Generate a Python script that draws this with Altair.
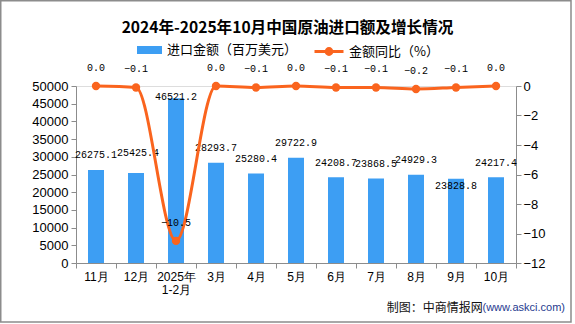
import altair as alt
import pandas as pd

months = ["11月", "12月", "2025年\n1-2月", "3月", "4月", "5月", "6月", "7月", "8月", "9月", "10月"]
amount = [26275.1, 25425.4, 46521.2, 28293.7, 25280.4, 29722.9, 24208.7, 23868.5, 24929.3, 23828.8, 24217.4]
growth = [0.0, -0.1, -10.5, 0.0, -0.1, 0.0, -0.1, -0.1, -0.2, -0.1, 0.0]

bar_name = "进口金额（百万美元）"
line_name = "金额同比（%）"
title_text = "2024年-2025年10月中国原油进口额及增长情况"
credit_cn = "制图：中商情报网"
credit_url = "(www.askci.com)"

BLUE = "#3d9ef3"
ORANGE = "#fa641e"
GRID = "#8c8c8c"
MONO = "Liberation Mono"

df = pd.DataFrame({"month": months, "amount": amount, "growth": growth})
df["s1"] = bar_name
df["s2"] = line_name

xenc = alt.X(
    "month:N",
    sort=months,
    scale=alt.Scale(paddingInner=0, paddingOuter=0),
    axis=alt.Axis(
        title=None, labelAngle=0, tickBand="extent", labelExpr="split(datum.label, '\\n')",
        labelFontSize=12, labelLineHeight=13.4, labelPadding=3, tickSize=5,
        domainColor=GRID, tickColor=GRID, labelColor="#000", labelFont="Liberation Sans",
    ),
)

yleft = alt.Y(
    "amount:Q",
    scale=alt.Scale(domain=[0, 50000], nice=False),
    axis=alt.Axis(
        title=None, values=list(range(0, 50001, 5000)), grid=False, orient="left", format="d",
        labelFontSize=13, labelPadding=3, tickSize=5, domainColor=GRID, tickColor=GRID,
        labelColor="#000", labelFont="Liberation Sans",
    ),
)

yright = alt.Y(
    "growth:Q",
    scale=alt.Scale(domain=[-12, 0], nice=False),
    axis=alt.Axis(
        title=None, values=list(range(-12, 1, 2)), grid=False, orient="right",
        labelFontSize=13, labelPadding=2, tickSize=5, domainColor=GRID, tickColor=GRID,
        labelColor="#000", labelFont="Liberation Sans",
    ),
)

base = alt.Chart(df)

bars = base.mark_bar(size=16).encode(
    x=xenc,
    y=yleft,
    color=alt.Color(
        "s1:N",
        scale=alt.Scale(domain=[bar_name], range=[BLUE]),
        legend=alt.Legend(
            title=None, orient="none", legendX=61, legendY=-48.5, padding=0,
            symbolType="M-1,-0.32H1V0.32H-1Z", symbolSize=625, symbolStrokeWidth=0,
            labelFontSize=13, labelFont="Noto Sans CJK SC", labelColor="#000", labelOffset=5,
        ),
    ),
)

special_top = "2025年\n1-2月"
special_low = "9月"
special_hi = "12月"
lab_text = alt.Text("amount:Q", format=".1f")
lab_style = dict(font=MONO, fontSize=10, color="#000", baseline="middle")
bar_labels = base.mark_text(dy=-14.5, **lab_style).encode(x=xenc, y=yleft, text=lab_text).transform_filter(
    alt.FieldOneOfPredicate(field="month", oneOf=[m for m in months if m not in (special_top, special_low, special_hi)])
)
bar_labels_top = base.mark_text(dy=-1, **lab_style).encode(x=xenc, y=yleft, text=lab_text).transform_filter(
    alt.datum.month == special_top
)
bar_labels_low = base.mark_text(dy=7, **lab_style).encode(x=xenc, y=yleft, text=lab_text).transform_filter(
    alt.datum.month == special_low
)
bar_labels_hi = base.mark_text(dy=-19.5, dx=2, **lab_style).encode(x=xenc, y=yleft, text=lab_text).transform_filter(
    alt.datum.month == special_hi
)

line = base.mark_line(strokeWidth=3, interpolate="monotone").encode(
    x=xenc,
    y=yright,
    color=alt.Color(
        "s2:N",
        scale=alt.Scale(domain=[line_name], range=[ORANGE]),
        legend=alt.Legend(
            title=None, orient="none", legendX=237, legendY=-50.5, padding=0,
            symbolType="M-1,0H1M0.2,0A0.2,0.2,0,1,1,-0.2,0A0.2,0.2,0,1,1,0.2,0Z",
            symbolSize=841, symbolStrokeWidth=3, symbolFillColor=ORANGE, symbolStrokeColor=ORANGE,
            labelFontSize=13, labelFont="Noto Sans CJK SC", labelColor="#000", labelOffset=4,
        ),
    ),
)
points = base.mark_circle(size=70, color=ORANGE, opacity=1).encode(x=xenc, y=yright)
line_labels = base.mark_text(dy=-18, **lab_style).encode(
    x=xenc, y=yright, text=alt.Text("growth:Q", format=".1f")
)

frame = alt.Chart(pd.DataFrame({"k": [0]})).mark_rect(
    fill=None, filled=False, stroke=GRID, strokeWidth=1.5
).encode(
    x=alt.value(-75.25), x2=alt.value(495), y=alt.value(-85.25), y2=alt.value(236)
)
footer_cn = alt.Chart(pd.DataFrame({"t": [credit_cn]})).mark_text(
    align="right", baseline="middle", fontSize=12, font="Noto Sans CJK SC", color="#111"
).encode(text="t:N", x=alt.value(406.7), y=alt.value(222.3))
footer_url = alt.Chart(pd.DataFrame({"t": [credit_url]})).mark_text(
    align="right", baseline="middle", fontSize=11, font="Liberation Sans", color="#1f3b8f"
).encode(text="t:N", x=alt.value(489), y=alt.value(222.3))

left = alt.layer(bars, bar_labels, bar_labels_top, bar_labels_low, bar_labels_hi)
right = alt.layer(line, points, line_labels)

chart = (
    alt.layer(left, right, frame, footer_cn, footer_url)
    .resolve_scale(y="independent", color="independent")
    .properties(
        width=440,
        height=177,
        autosize=alt.AutoSizeParams(type="none"),
        padding={"left": 76, "top": 86, "right": 59, "bottom": 61},
        title=alt.TitleParams(
            text=title_text, fontSize=15.6, font="Noto Sans CJK SC", fontWeight="bold",
            anchor="middle", dx=-8.5, offset=-37, color="#000",
        ),
    )
    .configure_view(stroke=None)
    .configure(background="white")
)

chart.save("out.html", embed_options={"renderer": "svg", "actions": False})
